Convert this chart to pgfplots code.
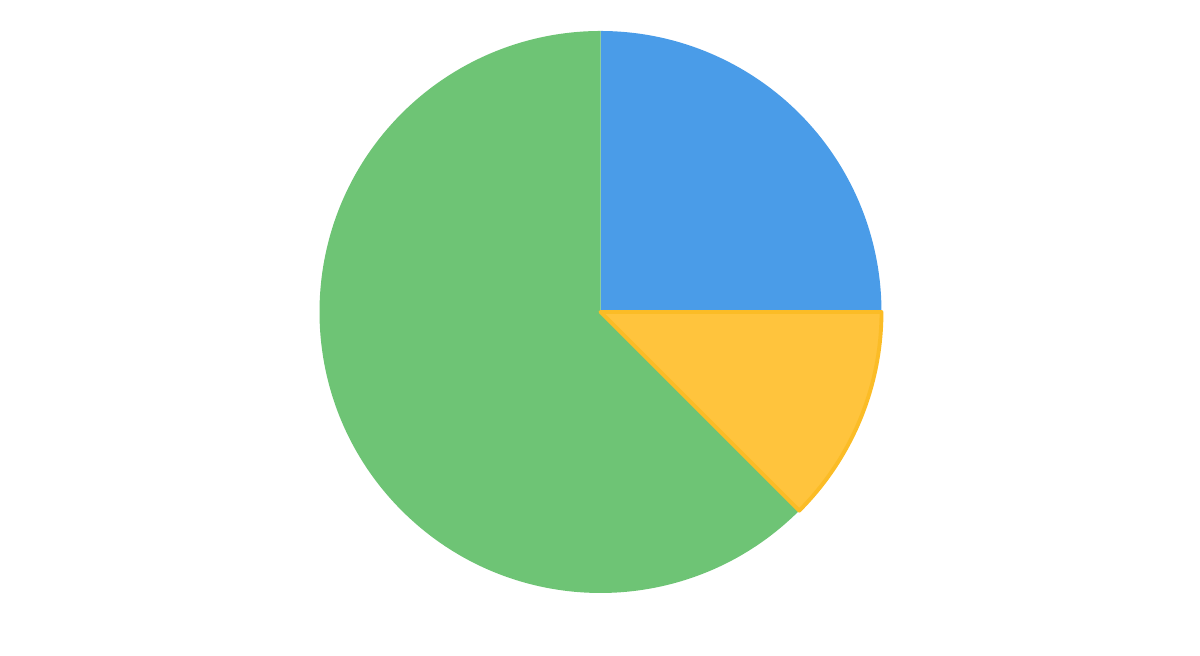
\documentclass[border=0pt]{standalone}
\usepackage{pgfplots}
\usepackage{pgfplotstable}
\pgfplotsset{compat=1.18}

\definecolor{pieblue}{HTML}{4A9CE8}
\definecolor{piegreen}{HTML}{6EC475}
\definecolor{pieyellow}{HTML}{FFC43D}
\definecolor{pieyellowline}{HTML}{FBBC26}

% slice shares in percent, clockwise from 12 o'clock
\pgfplotstableread{
label value
A 25
B 12.5
C 62.5
}\piedata

\pgfplotstablegetelem{0}{value}\of\piedata \let\vA\pgfplotsretval
\pgfplotstablegetelem{1}{value}\of\piedata \let\vB\pgfplotsretval
\pgfplotstablegetelem{2}{value}\of\piedata \let\vC\pgfplotsretval
\pgfmathsetmacro\aA{90}
\pgfmathsetmacro\aB{\aA-3.6*\vA}
\pgfmathsetmacro\aC{\aB-3.6*\vB}
\pgfmathsetmacro\aD{\aC-3.6*\vC}

\begin{document}
\begin{tikzpicture}
\begin{axis}[scale only axis, width=12cm, height=6.56cm,
    xmin=0, xmax=1200, ymin=0, ymax=656,
    hide axis, clip=false]
\addplot[draw=none] coordinates {(0,0) (1200,656)};
% pie centre at (600.5,344), radius 281 px = 2.81cm
\fill[pieblue] (axis cs:600.5,344) -- ++(\aA:2.81cm)
    arc[start angle=\aA, end angle=\aB, radius=2.81cm] -- cycle;
\fill[piegreen] (axis cs:600.5,344) -- ++(\aC:2.81cm)
    arc[start angle=\aC, end angle=\aD, radius=2.81cm] -- cycle;
\filldraw[fill=pieyellow, draw=pieyellowline, line width=1.1pt, line join=round]
    (axis cs:600.5,344) -- ++(\aB:2.81cm)
    arc[start angle=\aB, end angle=\aC, radius=2.81cm] -- cycle;
\end{axis}
\end{tikzpicture}
\end{document}
